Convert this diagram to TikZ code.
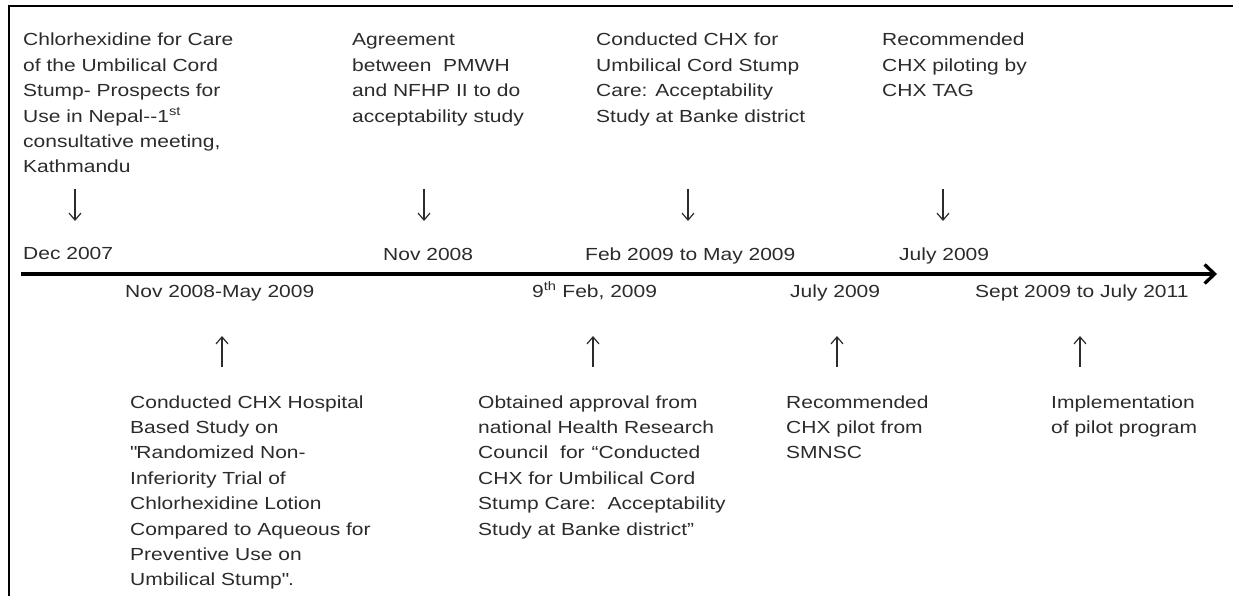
\documentclass[tikz,border=0pt]{standalone}
\usepackage{fontspec}
\setmainfont{Liberation Sans}[FakeStretch=1.2]
\usetikzlibrary{arrows.meta}
\definecolor{ink}{HTML}{2B2B2B}
\newcommand{\txtblock}[1]{\begin{tabular}[t]{@{}l@{}}#1\end{tabular}}
\tikzset{
  lbl/.style={anchor=base west, inner sep=0pt, text=ink, font=\fontsize{17.5}{25.4}\selectfont},
  tick/.style={draw=ink, line width=1.2pt, -{Straight Barb[length=7pt,width=12pt]}},
  axis/.style={draw=black, line width=3.3pt, -{Straight Barb[length=10pt,width=19pt]}},
  frameline/.style={draw=black, line width=1.8pt}
}
\begin{document}
\begin{tikzpicture}[x=1pt,y=-1pt]
\useasboundingbox (0,0) rectangle (1233,596);
% frame
\draw[frameline] (9,596) -- (9,6) -- (1233,6);
% top event texts
\node[lbl] (t1) at (23,46) {\txtblock{Chlorhexidine for Care\\ of the Umbilical Cord\\ Stump- Prospects for\\ Use in Nepal-\kern0pt-1\textsuperscript{st}\\ consultative meeting,\\ Kathmandu}};
\node[lbl] (t2) at (352,46) {\txtblock{Agreement\\ between\ \ PMWH\\ and NFHP II to do\\ acceptability study}};
\node[lbl] (t3) at (596,46) {\txtblock{Conducted CHX for\\ Umbilical Cord Stump\\ Care: Acceptability\\ Study at Banke district}};
\node[lbl] (t4) at (882,46) {\txtblock{Recommended\\ CHX piloting by\\ CHX TAG}};
% top dates
\node[lbl] (d1) at (23,259) {Dec 2007};
\node[lbl] (d2) at (383,260) {Nov 2008};
\node[lbl] (d3) at (585,260) {Feb 2009 to May 2009};
\node[lbl] (d4) at (899,260) {July 2009};
% bottom dates
\node[lbl] (b1) at (125,297) {Nov 2008-May 2009};
\node[lbl] (b2) at (532,297) {9\textsuperscript{th} Feb, 2009};
\node[lbl] (b3) at (790,297) {July 2009};
\node[lbl] (b4) at (975,297) {Sept 2009 to July 2011};
% bottom event texts
\node[lbl] (e1) at (130,408) {\txtblock{Conducted CHX Hospital\\ Based Study on\\ \textquotedbl Randomized Non-\\ Inferiority Trial of\\ Chlorhexidine Lotion\\ Compared to Aqueous for\\ Preventive Use on\\ Umbilical Stump\textquotedbl .}};
\node[lbl] (e2) at (478,408) {\txtblock{Obtained approval from\\ national Health Research\\ Council\hspace{12pt}for\hspace{7pt}“Conducted\\ CHX for Umbilical Cord\\ Stump Care:\ \ Acceptability\\ Study at Banke district”}};
\node[lbl] (e3) at (786,408) {\txtblock{Recommended\\ CHX pilot from\\ SMNSC}};
\node[lbl] (e4) at (1051,408) {\txtblock{Implementation\\ of pilot program}};
% timeline
\coordinate (tl0) at (21,274);
\coordinate (tl1) at (1217,274);
\draw[axis] (tl0) -- (tl1);
% down arrows
\foreach \n/\x in {1/75,2/424,3/688,4/943}{
  \coordinate (da\n) at (\x,189);
  \coordinate (db\n) at (\x,221);
  \draw[tick] (da\n) -- (db\n);
}
% up arrows
\foreach \n/\x in {1/222,2/593,3/837,4/1080}{
  \coordinate (ua\n) at (\x,367);
  \coordinate (ub\n) at (\x,336);
  \draw[tick] (ua\n) -- (ub\n);
}
\end{tikzpicture}
\end{document}
